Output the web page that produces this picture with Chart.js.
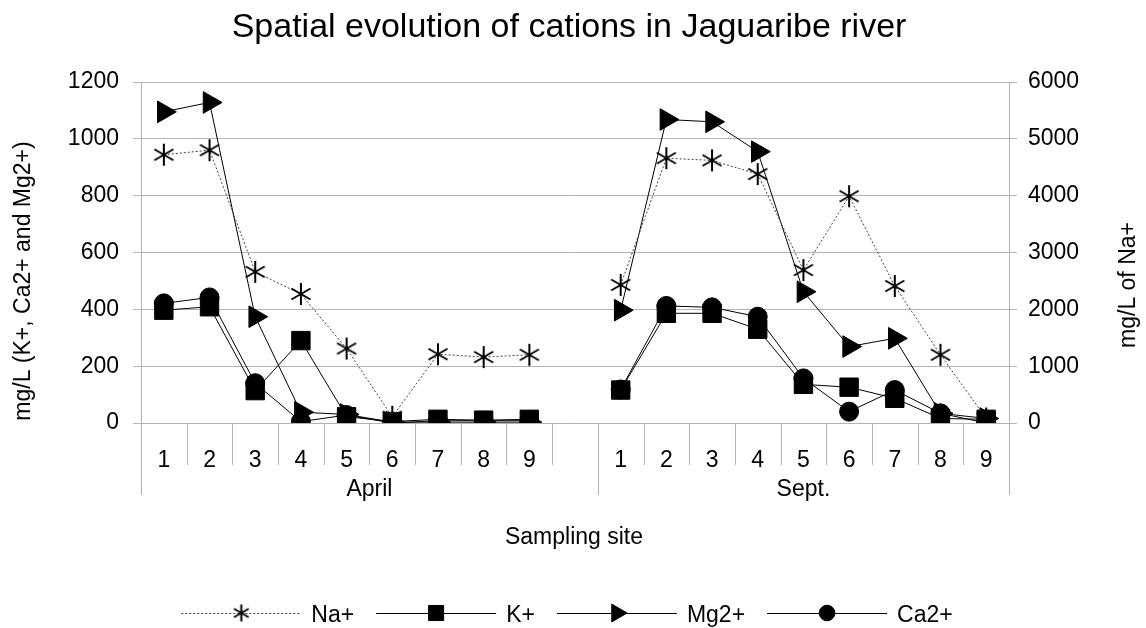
<!DOCTYPE html>
<html>
<head>
<meta charset="utf-8">
<script src="https://cdn.jsdelivr.net/npm/chart.js@4"></script>
<style>
  html, body { margin: 0; padding: 0; background: #fff; }
  canvas { display: block; }
</style>
</head>
<body>
<canvas id="chart" width="1146" height="628"></canvas>
<script>
// sampling sites, April then Sept. (empty slot in between)
const sites = ['1', '2', '3', '4', '5', '6', '7', '8', '9', '', '1', '2', '3', '4', '5', '6', '7', '8', '9'];
const groups = ['April', 'Sept.'];
const groupSizes = [10, 9];

// mg/L, values
const naApr = [4720, 4800, 2660, 2270, 1310, 110, 1210, 1160, 1200];
const naSep = [2430, 4660, 4620, 4380, 2690, 3990, 2410, 1200, 80];
const kApr = [397, 409, 114, 290, 22, 5, 13, 10, 13];
const kSep = [116, 386, 386, 330, 136, 126, 87, 16, 13];
const mgApr = [1095, 1128, 374, 38, 30, 3, 3, 3, 3];
const mgSep = [397, 1068, 1060, 955, 462, 269, 298, 34, 16];
const caApr = [421, 442, 140, 5, 28, 0, 8, 8, 8];
const caSep = [118, 412, 407, 374, 157, 40, 116, 34, 0];

const leftTicks = [0, 1200, 200];
const rightTicks = [0, 6000, 1000];

const FONT = "'Liberation Sans', Arial, sans-serif";
const GRID = '#b3b3b3';

// six-armed asterisk marker
function asterisk(size) {
  const c = document.createElement('canvas');
  c.width = size; c.height = size;
  const g = c.getContext('2d');
  const m = size / 2, r = size / 2 - 1;
  g.strokeStyle = '#000';
  g.lineWidth = 2;
  g.beginPath();
  for (let a = 90; a < 270; a += 60) {
    const t = a * Math.PI / 180;
    g.moveTo(m + Math.cos(t) * r, m - Math.sin(t) * r);
    g.lineTo(m - Math.cos(t) * r, m + Math.sin(t) * r);
  }
  g.stroke();
  return c;
}

const join = (a, b) => a.concat([null], b);

const series = [
  { label: 'Na+', data: join(naApr, naSep), yAxisID: 'y2', pointStyle: asterisk(24), radius: 11, dash: [2, 2], lw: 1, color: '#444', legendStyle: asterisk(19) },
  { label: 'K+', data: join(kApr, kSep), yAxisID: 'y', pointStyle: 'rect', radius: 13, dash: [], lw: 1, color: '#000' },
  { label: 'Mg2+', data: join(mgApr, mgSep), yAxisID: 'y', pointStyle: 'triangle', rotation: 90, radius: 12.5, dash: [], lw: 1, color: '#000' },
  { label: 'Ca2+', data: join(caApr, caSep), yAxisID: 'y', pointStyle: 'circle', radius: 9.5, dash: [], lw: 1, color: '#000' }
];

function vText(ctx, text, cx, cy) {
  ctx.save();
  ctx.translate(cx, cy);
  ctx.rotate(-Math.PI / 2);
  ctx.textAlign = 'center';
  ctx.textBaseline = 'middle';
  ctx.fillText(text, 0, 0);
  ctx.restore();
}

const extras = {
  id: 'extras',
  afterDraw(chart) {
    const ctx = chart.ctx;
    const x = chart.scales.x;
    const bottom = chart.chartArea.bottom;
    ctx.save();
    ctx.fillStyle = '#000';

    // title
    ctx.font = '34px ' + FONT;
    ctx.textAlign = 'center';
    ctx.textBaseline = 'alphabetic';
    ctx.fillText('Spatial evolution of cations in Jaguaribe river', 569, 37);

    // axis titles
    ctx.font = '23px ' + FONT;
    vText(ctx, 'mg/L (K+, Ca2+ and Mg2+)', 24, 281);
    vText(ctx, 'mg/L of Na+', 1129, 285);

    // category boxes on the x axis
    const n = sites.length;
    const edge = i => i === 0 ? x.left : i === n ? x.right : (x.getPixelForValue(i - 1) + x.getPixelForValue(i)) / 2;
    const groupEdges = [0];
    groupSizes.forEach(s => groupEdges.push(groupEdges[groupEdges.length - 1] + s));
    ctx.strokeStyle = GRID;
    ctx.lineWidth = 1;
    for (let i = 0; i <= n; i++) {
      const px = Math.round(edge(i)) + 0.5;
      const long = groupEdges.includes(i);
      ctx.beginPath();
      ctx.moveTo(px, bottom);
      ctx.lineTo(px, bottom + (long ? 72 : 42));
      ctx.stroke();
    }
    ctx.textAlign = 'center';
    ctx.textBaseline = 'alphabetic';
    sites.forEach((s, i) => ctx.fillText(s, x.getPixelForValue(i), bottom + 44));
    groups.forEach((g, k) => {
      const cx = (edge(groupEdges[k]) + edge(groupEdges[k + 1])) / 2;
      ctx.fillText(g, cx, bottom + 73);
    });
    ctx.fillText('Sampling site', 574, 544);

    // legend
    const lineLen = 120, gap = 10, itemGap = 22, ly = 613;
    const widths = series.map(s => lineLen + gap + ctx.measureText(s.label).width);
    const total = widths.reduce((a, b) => a + b, 0) + itemGap * (series.length - 1);
    let lx = 567 - total / 2;
    series.forEach((s, i) => {
      ctx.save();
      ctx.strokeStyle = s.color;
      ctx.lineWidth = s.lw;
      ctx.setLineDash(s.dash);
      ctx.beginPath();
      ctx.moveTo(lx, ly + 0.5);
      ctx.lineTo(lx + lineLen, ly + 0.5);
      ctx.stroke();
      ctx.restore();
      ctx.fillStyle = '#000';
      ctx.strokeStyle = '#000';
      Chart.helpers.drawPoint(ctx, {
        pointStyle: s.legendStyle || s.pointStyle,
        rotation: s.rotation || 0,
        radius: s.radius * 0.82,
        borderWidth: 1
      }, lx + lineLen / 2, ly);
      ctx.textAlign = 'left';
      ctx.fillText(s.label, lx + lineLen + gap, ly + 9);
      lx += widths[i] + itemGap;
    });
    ctx.restore();
  }
};

const plain = v => String(v);

new Chart(document.getElementById('chart'), {
  type: 'line',
  data: {
    labels: sites,
    datasets: series.map(s => ({
      label: s.label,
      data: s.data,
      yAxisID: s.yAxisID,
      borderColor: s.color,
      borderWidth: s.lw,
      borderDash: s.dash,
      pointStyle: s.pointStyle,
      pointRotation: s.rotation || 0,
      pointRadius: s.radius,
      pointHoverRadius: s.radius,
      pointBackgroundColor: '#000',
      pointBorderColor: '#000',
      pointBorderWidth: 1,
      tension: 0,
      fill: false,
      spanGaps: false
    }))
  },
  options: {
    responsive: false,
    animation: false,
    devicePixelRatio: 1,
    layout: { padding: { top: 82, left: 0, right: 0, bottom: 0 } },
    plugins: {
      legend: { display: false },
      title: { display: false },
      tooltip: { enabled: false }
    },
    scales: {
      x: {
        offset: true,
        grid: { display: false },
        border: { display: false },
        ticks: { display: false },
        afterFit: s => { s.height = 205; }
      },
      y: {
        position: 'left',
        min: leftTicks[0], max: leftTicks[1],
        ticks: { stepSize: leftTicks[2], callback: plain, color: '#000', padding: 14, font: { family: FONT, size: 23 } },
        grid: { color: GRID, tickLength: 8 },
        border: { color: GRID },
        afterFit: s => { s.width = 141; }
      },
      y2: {
        position: 'right',
        min: rightTicks[0], max: rightTicks[1],
        ticks: { stepSize: rightTicks[2], callback: plain, color: '#000', padding: 11, font: { family: FONT, size: 23 } },
        grid: { color: GRID, tickLength: 8, drawOnChartArea: false },
        border: { color: GRID },
        afterFit: s => { s.width = 137; }
      }
    }
  },
  plugins: [extras]
});
</script>
</body>
</html>
